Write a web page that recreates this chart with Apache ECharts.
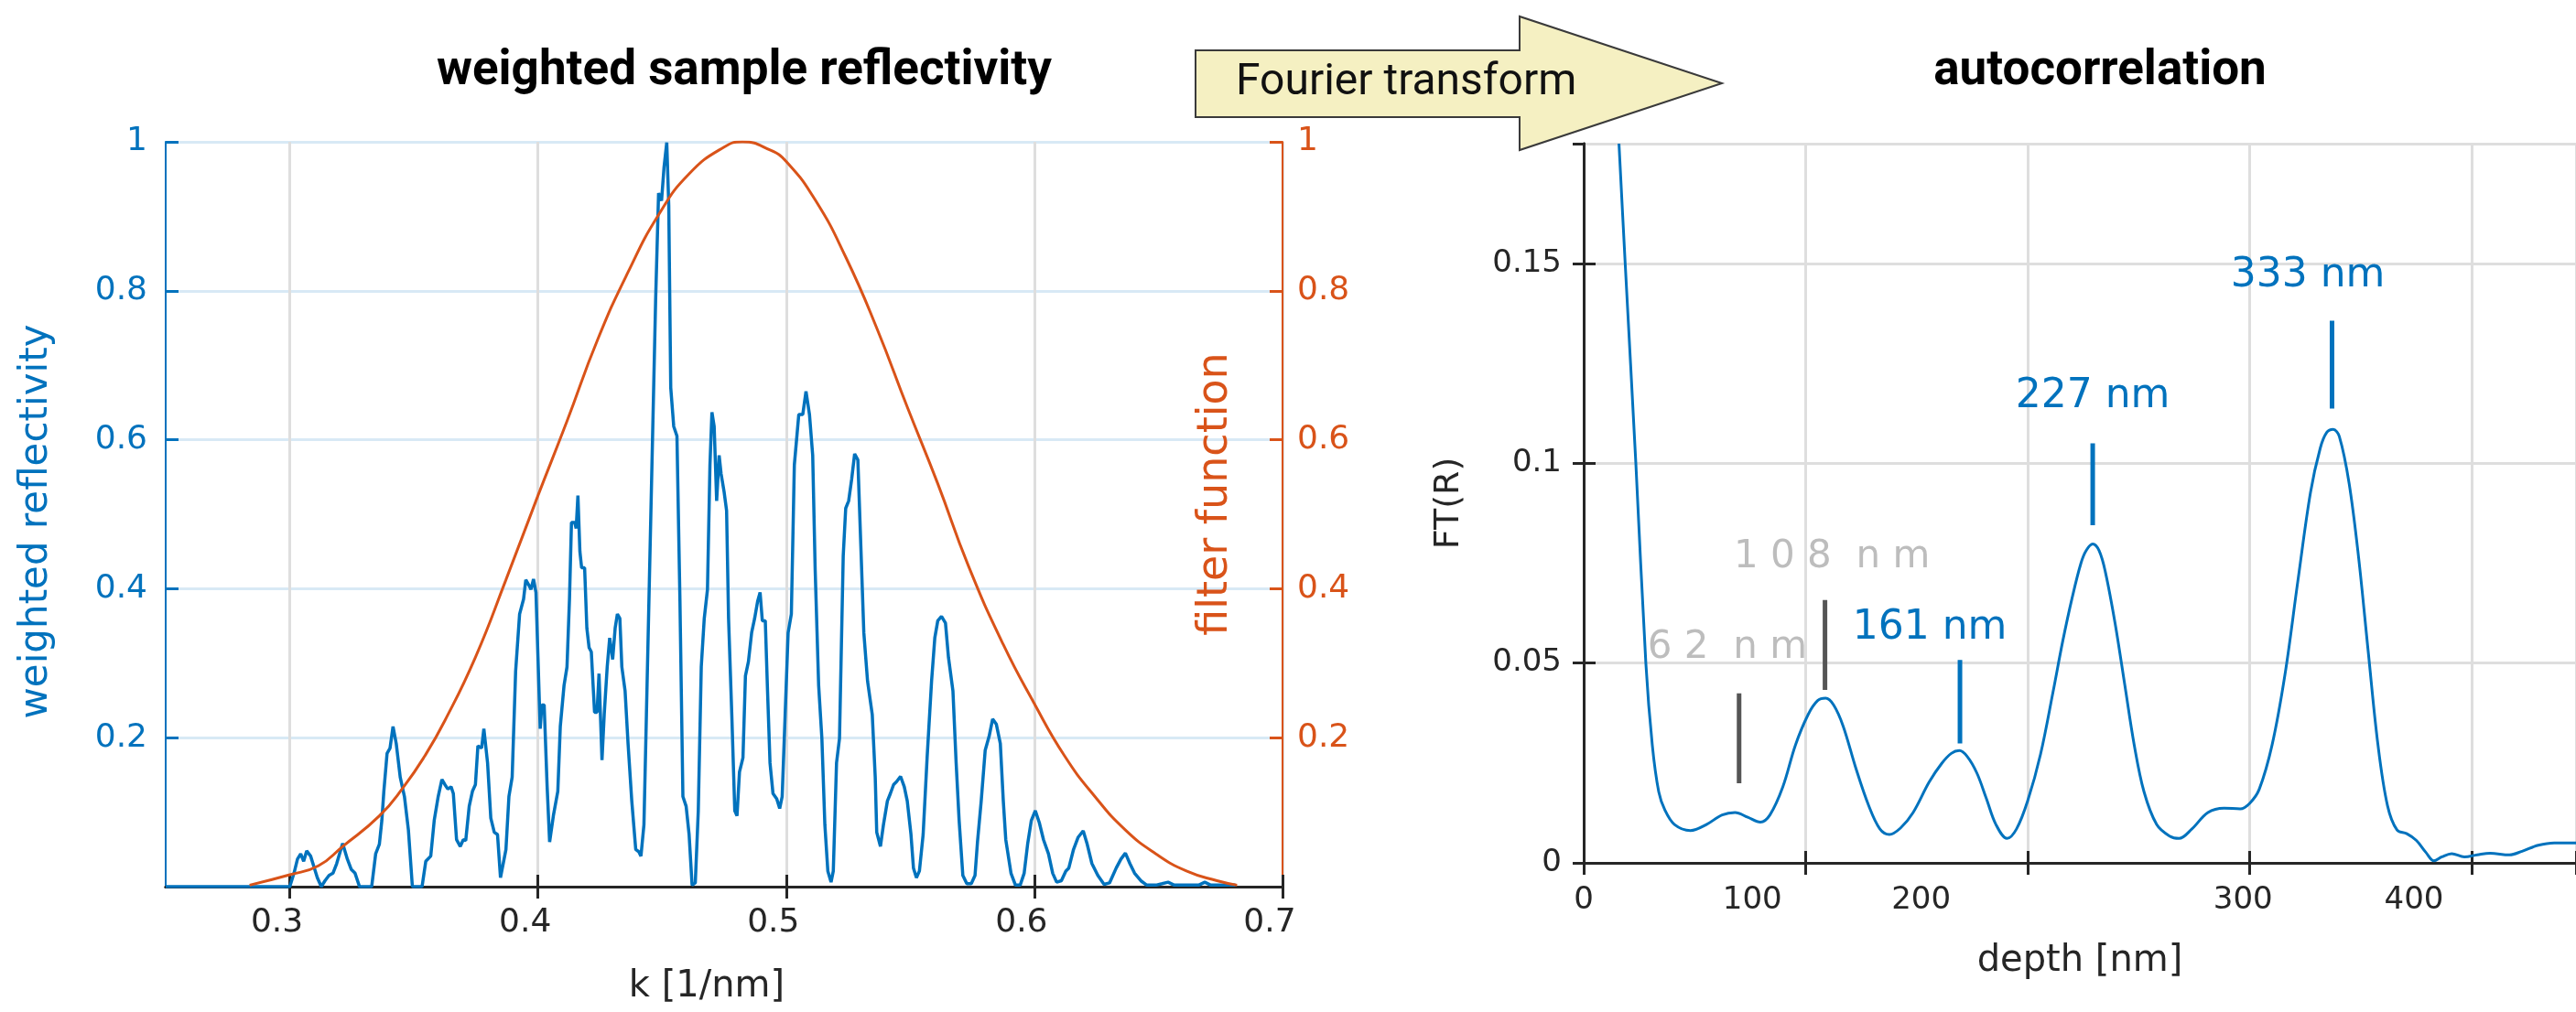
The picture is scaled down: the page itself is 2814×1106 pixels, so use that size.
<!DOCTYPE html>
<html><head><meta charset="utf-8">
<script src="https://cdn.jsdelivr.net/npm/echarts@6/dist/echarts.min.js"></script>
<style>html,body{margin:0;padding:0;background:#fff;}#c{width:2814px;height:1106px;}</style>
</head><body><div id="c"></div>
<script>
// ---------------- data ----------------
const reflK = [0.2500,0.3000,0.3017,0.3031,0.3044,0.3056,0.3068,0.3084,0.3099,0.3111,0.3127,0.3142,0.3158,0.3174,0.3189,0.3213,0.3232,0.3248,0.3263,0.3281,0.3330,0.3346,0.3361,0.3371,0.3379,0.3392,0.3404,0.3416,0.3429,0.3445,0.3462,0.3478,0.3494,0.3533,0.3548,0.3568,0.3582,0.3598,0.3613,0.3625,0.3637,0.3650,0.3659,0.3672,0.3687,0.3699,0.3709,0.3723,0.3736,0.3748,0.3758,0.3773,0.3782,0.3797,0.3810,0.3824,0.3837,0.3849,0.3871,0.3883,0.3896,0.3910,0.3926,0.3942,0.3951,0.3963,0.3972,0.3982,0.3992,0.4000,0.4009,0.4016,0.4025,0.4037,0.4047,0.4062,0.4080,0.4090,0.4105,0.4117,0.4127,0.4135,0.4148,0.4154,0.4161,0.4169,0.4176,0.4188,0.4197,0.4206,0.4215,0.4228,0.4238,0.4246,0.4258,0.4267,0.4279,0.4289,0.4301,0.4311,0.4320,0.4330,0.4338,0.4351,0.4363,0.4378,0.4394,0.4406,0.4415,0.4427,0.4437,0.4449,0.4461,0.4474,0.4486,0.4498,0.4508,0.4519,0.4527,0.4535,0.4547,0.4560,0.4572,0.4584,0.4597,0.4609,0.4621,0.4634,0.4646,0.4658,0.4670,0.4683,0.4693,0.4701,0.4710,0.4720,0.4730,0.4738,0.4750,0.4760,0.4768,0.4781,0.4793,0.4802,0.4812,0.4826,0.4836,0.4848,0.4861,0.4873,0.4885,0.4895,0.4904,0.4916,0.4925,0.4935,0.4947,0.4962,0.4974,0.4984,0.4996,0.5008,0.5021,0.5033,0.5051,0.5067,0.5080,0.5094,0.5107,0.5117,0.5131,0.5144,0.5156,0.5168,0.5181,0.5190,0.5203,0.5215,0.5230,0.5240,0.5252,0.5264,0.5276,0.5289,0.5301,0.5313,0.5328,0.5347,0.5359,0.5365,0.5380,0.5392,0.5408,0.5420,0.5433,0.5445,0.5461,0.5476,0.5488,0.5503,0.5513,0.5525,0.5537,0.5552,0.5568,0.5586,0.5599,0.5611,0.5626,0.5642,0.5654,0.5672,0.5685,0.5697,0.5712,0.5728,0.5746,0.5761,0.5771,0.5786,0.5802,0.5818,0.5832,0.5847,0.5863,0.5875,0.5885,0.5906,0.5924,0.5943,0.5959,0.5973,0.5988,0.6004,0.6020,0.6037,0.6057,0.6074,0.6090,0.6109,0.6127,0.6139,0.6158,0.6176,0.6197,0.6213,0.6232,0.6256,0.6281,0.6303,0.6330,0.6349,0.6367,0.6385,0.6404,0.6429,0.6453,0.6490,0.6515,0.6539,0.6564,0.6662,0.6687,0.6711,0.6810];
const reflVal = [0,0,0.018,0.037,0.044,0.034,0.048,0.041,0.025,0.012,0,0.008,0.015,0.018,0.031,0.058,0.037,0.023,0.018,0,0,0.044,0.057,0.089,0.128,0.179,0.186,0.215,0.192,0.147,0.121,0.076,0,0,0.034,0.041,0.089,0.121,0.144,0.137,0.131,0.134,0.125,0.063,0.054,0.063,0.062,0.108,0.128,0.137,0.189,0.186,0.212,0.166,0.092,0.073,0.070,0.012,0.050,0.121,0.147,0.289,0.366,0.386,0.412,0.405,0.399,0.413,0.395,0.308,0.212,0.244,0.244,0.134,0.060,0.095,0.128,0.215,0.270,0.295,0.386,0.489,0.489,0.481,0.525,0.450,0.428,0.428,0.347,0.321,0.315,0.234,0.234,0.286,0.170,0.231,0.295,0.334,0.305,0.347,0.366,0.360,0.295,0.263,0.192,0.115,0.050,0.047,0.041,0.083,0.231,0.412,0.592,0.786,0.931,0.921,0.966,0.999,0.915,0.670,0.618,0.605,0.386,0.121,0.108,0.070,0.002,0.005,0.102,0.295,0.360,0.399,0.566,0.637,0.618,0.518,0.579,0.554,0.530,0.505,0.360,0.231,0.102,0.095,0.154,0.173,0.283,0.302,0.341,0.360,0.383,0.395,0.357,0.357,0.263,0.166,0.125,0.118,0.105,0.121,0.231,0.341,0.366,0.566,0.634,0.634,0.665,0.634,0.579,0.425,0.270,0.199,0.083,0.021,0.006,0.021,0.166,0.199,0.444,0.508,0.518,0.547,0.581,0.573,0.457,0.341,0.276,0.231,0.147,0.073,0.054,0.083,0.115,0.125,0.137,0.141,0.148,0.134,0.115,0.070,0.025,0.012,0.021,0.070,0.173,0.276,0.334,0.357,0.363,0.354,0.308,0.263,0.166,0.089,0.015,0.004,0.004,0.015,0.060,0.115,0.183,0.202,0.225,0.218,0.192,0.115,0.063,0.018,0.002,0.002,0.018,0.057,0.089,0.102,0.086,0.063,0.044,0.018,0.006,0.008,0.021,0.025,0.050,0.066,0.075,0.057,0.031,0.015,0.003,0.005,0.025,0.037,0.045,0.031,0.018,0.008,0.002,0.002,0.004,0.006,0.002,0.002,0.006,0.002,0.002];

const filterK = [0.2838,0.3000,0.3115,0.3213,0.3361,0.3459,0.3545,0.3625,0.3748,0.3871,0.4000,0.4117,0.4240,0.4363,0.4486,0.4609,0.4750,0.4824,0.4935,0.5002,0.5119,0.5242,0.5365,0.5488,0.5611,0.5734,0.5875,0.5998,0.6121,0.6244,0.6367,0.6490,0.6613,0.6736,0.6817];
const filterVal = [0.002,0.016,0.028,0.054,0.095,0.134,0.176,0.223,0.308,0.412,0.525,0.625,0.734,0.825,0.902,0.957,0.993,1.000,0.989,0.973,0.921,0.844,0.750,0.644,0.541,0.431,0.325,0.247,0.176,0.121,0.076,0.044,0.021,0.008,0.002];

const depthNm = [15.9,18.7,23.5,28.0,30.9,33.8,36.6,40.9,48.1,55.3,62.4,68.2,73.9,79.6,83.9,89.7,95.4,101.1,105.4,109.0,112.6,116.9,122.6,128.4,133.4,137.7,142.7,148.4,155.6,161.3,165.6,169.2,172.8,177.1,181.4,185.7,190.7,195.0,200.0,205.8,211.5,215.8,220.1,224.0,226.4,229.3,232.2,235.0,239.4,243.7,248.0,252.4,258.1,263.9,268.2,274.0,281.2,288.5,295.7,300.0,304.3,310.1,315.9,321.7,327.4,331.8,334.7,337.6,340.4,344.8,349.1,353.4,357.8,362.1,366.4,370.8,375.1,379.4,383.0,386.6,391.0,396.7,402.5,408.3,417.0,422.7,430.0,437.2,447.0];
const ftVal = [0.180,0.150,0.100,0.050,0.0295,0.0178,0.0132,0.0096,0.0081,0.0096,0.0120,0.0126,0.0114,0.0102,0.0120,0.0190,0.0295,0.0371,0.0406,0.0412,0.0395,0.0342,0.0237,0.0143,0.0085,0.0071,0.0087,0.0126,0.0202,0.0249,0.0274,0.0281,0.0266,0.0225,0.0161,0.0096,0.0061,0.0085,0.0155,0.0272,0.0430,0.0555,0.0665,0.0750,0.0782,0.0798,0.0781,0.0728,0.0599,0.0447,0.0295,0.0178,0.0096,0.0067,0.0061,0.0085,0.0126,0.0137,0.0135,0.0149,0.0184,0.0295,0.0471,0.0705,0.0927,0.1038,0.1077,0.1085,0.1067,0.0950,0.0763,0.0529,0.0295,0.0143,0.0082,0.0073,0.0056,0.0026,0.0005,0.0015,0.0023,0.0015,0.0020,0.0024,0.0020,0.0029,0.0044,0.0050,0.0050];

// peak annotations (label text, marker depth, marker bottom / top, label anchor)
const peakNames = ['6 2  n m','1 0 8  n m','161 nm','227 nm','333 nm'];
const peakMuted = [true,true,false,false,false];
const peakDepth = [70.0,108.7,169.5,229.3,337.1];
const peakLow  = [0.0199,0.0433,0.0299,0.0845,0.1137];
const peakHigh = [0.0424,0.0658,0.0508,0.1050,0.1357];
const peakLabelDepth = [64.7,111.8,155.9,229.3,326.2];
const peakLabelVal = [0.0538,0.0764,0.0588,0.1167,0.1468];

const kTicks = [0.3,0.4,0.5,0.6,0.7];
const depthTickLabels = ['0','100','200','300','400'];
const depthTickLabelAt = [0,76,152,297,374];

// ---------------- styles ----------------
const DARK='#262626', BLUE='#0072BD', ORANGE='#D95319';
const GRID_GRAY='#dedede', GRID_BLUE='#d8e9f5';
const TF='DejaVu Sans';
const zip=(a,b)=>a.map((x,i)=>[x,b[i]]);

const markerSeries = peakDepth.map((d,i)=>({
  type:'line', xAxisIndex:2, yAxisIndex:2, silent:true, showSymbol:false, z:4,
  data:[[d,peakLow[i]],[d,peakHigh[i]]],
  lineStyle:{color: peakMuted[i] ? '#555555' : BLUE, width:5}
}));

const chart = echarts.init(document.getElementById('c'));
chart.setOption({
  animation:false,
  backgroundColor:'#ffffff',
  title:[
    {text:'weighted sample reflectivity', left:808, top:47, textAlign:'center',
     textStyle:{fontFamily:'Roboto', fontWeight:'bold', fontSize:53, color:'#000'}},
    {text:'autocorrelation', left:2289, top:47, textAlign:'center',
     textStyle:{fontFamily:'Roboto', fontWeight:'bold', fontSize:53, color:'#000'}}
  ],
  grid:[
    {left:181, top:155, width:1220, height:814},
    {left:1730, top:157, width:1085, height:786}
  ],
  xAxis:[
    {gridIndex:0, type:'value', position:'bottom', min:0.25, max:0.7,
     axisLine:{show:true, lineStyle:{color:DARK, width:3}},
     axisTick:{show:true, inside:true, length:13, customValues:kTicks, lineStyle:{color:DARK, width:3}},
     axisLabel:{show:true, customValues:kTicks, color:DARK, fontFamily:TF, fontSize:36, margin:22, padding:[0,28,0,0]},
     splitLine:{show:true, lineStyle:{color:GRID_GRAY, width:3}},
     name:'k [1/nm]', nameLocation:'middle', nameGap:90,
     nameTextStyle:{color:DARK, fontFamily:TF, fontSize:40, padding:[0,38,0,0]}},
    {gridIndex:0, type:'value', position:'top', min:0.25, max:0.7,
     axisLine:{show:true, lineStyle:{color:DARK, width:3}},
     axisTick:{show:true, inside:true, length:13, customValues:kTicks, lineStyle:{color:DARK, width:3}},
     axisLabel:{show:false}, splitLine:{show:false}},
    {gridIndex:1, type:'value', position:'bottom', min:0, max:447, interval:100,
     axisLine:{show:true, lineStyle:{color:DARK, width:3}},
     axisTick:{show:true, inside:true, length:13, lineStyle:{color:DARK, width:3}},
     axisLabel:{show:true, customValues:depthTickLabelAt,
       formatter:v=>{const i=depthTickLabelAt.indexOf(v);return i<0?'':depthTickLabels[i];},
       color:DARK, fontFamily:TF, fontSize:34, margin:24},
     splitLine:{show:true, lineStyle:{color:GRID_GRAY, width:3}},
     name:'depth [nm]', nameLocation:'middle', nameGap:88,
     nameTextStyle:{color:DARK, fontFamily:TF, fontSize:40}},
    {gridIndex:1, type:'value', position:'top', min:0, max:447, interval:100,
     axisLine:{show:true, lineStyle:{color:DARK, width:3}},
     axisTick:{show:true, inside:true, length:13, lineStyle:{color:DARK, width:3}},
     axisLabel:{show:false}, splitLine:{show:false}}
  ],
  yAxis:[
    {gridIndex:0, type:'value', position:'left', min:0, max:1, interval:0.2,
     axisLine:{show:true, lineStyle:{color:BLUE, width:2}},
     axisTick:{show:true, inside:true, length:14, lineStyle:{color:BLUE, width:3}},
     axisLabel:{show:true, showMinLabel:false, color:BLUE, fontFamily:TF, fontSize:36, margin:20},
     splitLine:{show:true, lineStyle:{color:GRID_BLUE, width:3}},
     name:'weighted reflectivity', nameLocation:'middle', nameRotate:90, nameGap:120,
     nameTextStyle:{color:BLUE, fontFamily:TF, fontSize:42, padding:[0,16,0,0]}},
    {gridIndex:0, type:'value', position:'right', min:0, max:1, interval:0.2,
     axisLine:{show:true, lineStyle:{color:ORANGE, width:2}},
     axisTick:{show:true, inside:true, length:14, lineStyle:{color:ORANGE, width:3}},
     axisLabel:{show:true, showMinLabel:false, color:ORANGE, fontFamily:TF, fontSize:36, margin:16},
     splitLine:{show:false},
     name:'filter function', nameLocation:'middle', nameRotate:90, nameGap:-96,
     nameTextStyle:{color:ORANGE, fontFamily:TF, fontSize:46, padding:[0,0,0,44]}},
    {gridIndex:1, type:'value', position:'left', min:0, max:0.18, interval:0.05,
     axisLine:{show:true, lineStyle:{color:DARK, width:3}},
     axisTick:{show:true, inside:true, length:13, lineStyle:{color:DARK, width:3}},
     axisLabel:{show:true, showMaxLabel:false, color:DARK, fontFamily:TF, fontSize:34, margin:24},
     splitLine:{show:true, lineStyle:{color:GRID_GRAY, width:3}},
     name:'FT(R)', nameLocation:'middle', nameRotate:90, nameGap:128,
     nameTextStyle:{color:DARK, fontFamily:TF, fontSize:38}},
    {gridIndex:1, type:'value', position:'right', min:0, max:0.18, interval:0.05,
     axisLine:{show:true, lineStyle:{color:DARK, width:3}},
     axisTick:{show:true, inside:true, length:12, lineStyle:{color:DARK, width:3}},
     axisLabel:{show:false}, splitLine:{show:false}}
  ],
  series:[
    {name:'weighted reflectivity', type:'line', xAxisIndex:0, yAxisIndex:0, showSymbol:false, z:3,
     data:zip(reflK,reflVal), lineStyle:{color:BLUE, width:3.5}, itemStyle:{color:BLUE}},
    {name:'filter function', type:'line', xAxisIndex:0, yAxisIndex:1, showSymbol:false, smooth:0.5, z:4,
     data:zip(filterK,filterVal), lineStyle:{color:ORANGE, width:3}, itemStyle:{color:ORANGE}},
    {name:'FT(R)', type:'line', xAxisIndex:2, yAxisIndex:2, showSymbol:false, smooth:0.35, z:3,
     data:zip(depthNm,ftVal), lineStyle:{color:BLUE, width:3}, itemStyle:{color:BLUE}},
    ...markerSeries,
    {type:'scatter', xAxisIndex:2, yAxisIndex:2, symbol:'circle', symbolSize:2, silent:true, z:5,
     itemStyle:{color:'rgba(0,0,0,0)'},
     data:peakNames.map((t,i)=>({value:[peakLabelDepth[i],peakLabelVal[i]],
       label:{show:true, position:'inside', formatter:t, fontFamily:TF, opacity:1,
              textBorderWidth:0, textShadowBlur:0,
              fontSize: peakMuted[i]?42:44, color: peakMuted[i]?'#bdbdbd':BLUE}}))}
  ],
  graphic:[
    {type:'polygon', z:100,
     shape:{points:[[1306,55],[1660,55],[1660,18],[1881,91],[1660,164],[1660,128],[1306,128]]},
     style:{fill:'#F5F0C2', stroke:'#3a3a3a', lineWidth:2}},
    {type:'text', z:101,
     style:{x:1350, y:91, text:'Fourier transform', font:'48px Roboto', fill:'#111',
            align:'left', verticalAlign:'middle', textAlign:'left', textVerticalAlign:'middle'}}
  ]
});
</script>
</body></html>
